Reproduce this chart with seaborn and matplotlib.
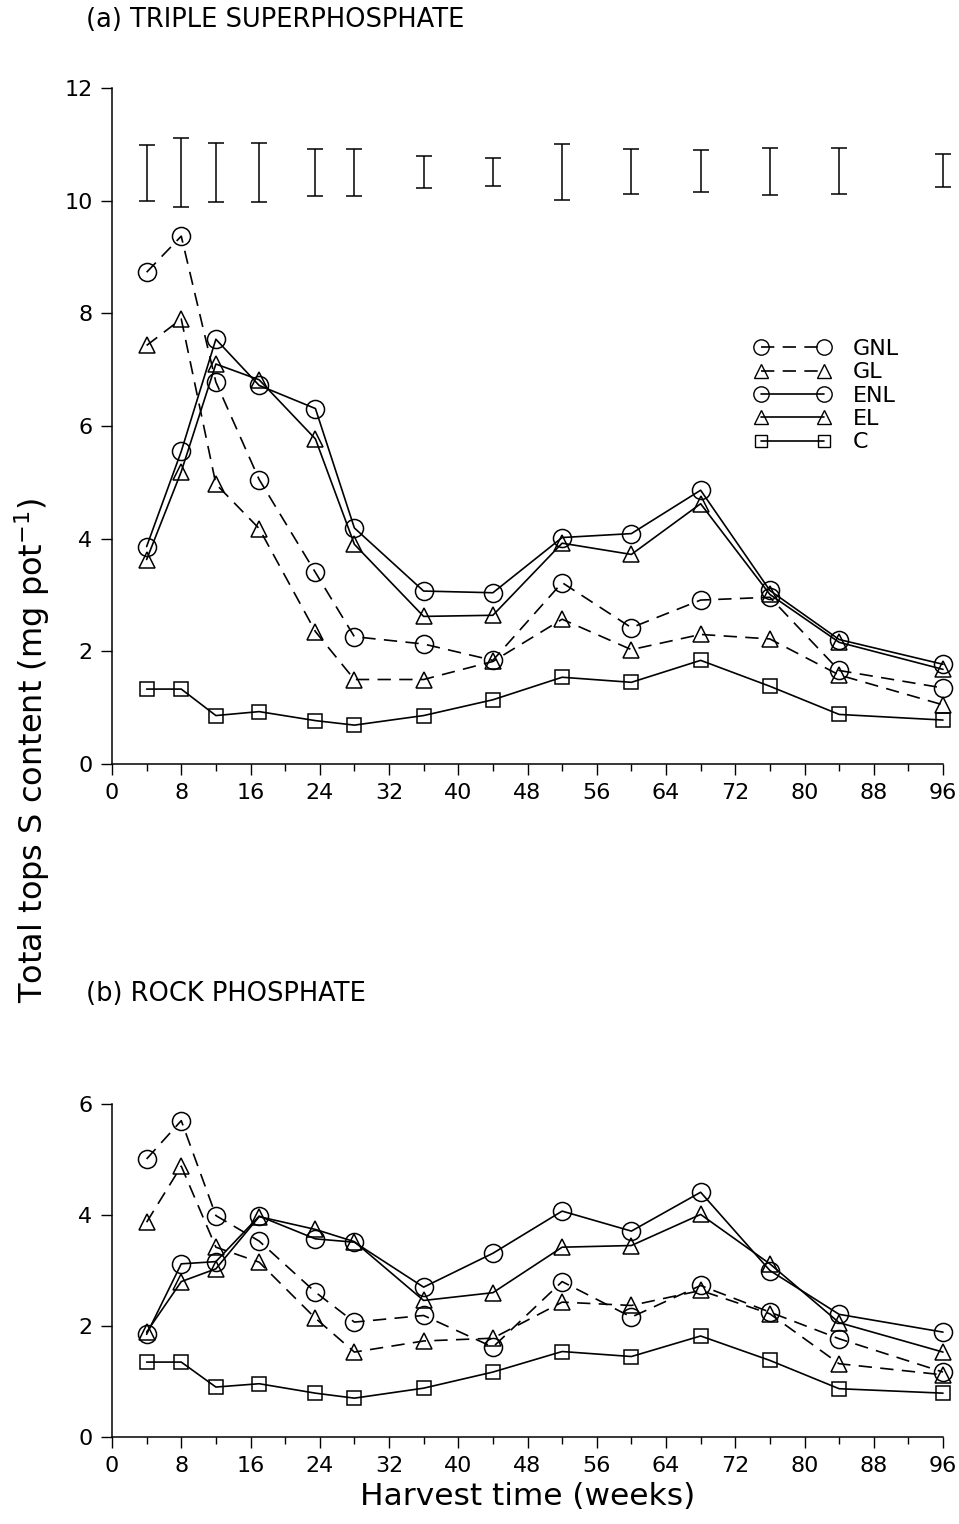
import matplotlib
matplotlib.use("Agg")
import matplotlib.pyplot as plt
import seaborn as sns
import numpy as np
from matplotlib.lines import Line2D
from matplotlib.ticker import MultipleLocator

sns.set_style("ticks")
plt.rcParams["font.family"] = ["DejaVu Sans"]
plt.rcParams["text.color"] = "black"
plt.rcParams["axes.labelcolor"] = "black"
plt.rcParams["xtick.color"] = "black"
plt.rcParams["ytick.color"] = "black"

# ---------------- data ----------------
weeks = [4, 8, 12, 17, 23.5, 28, 36, 44, 52, 60, 68, 76, 84, 96]
series_names = ["GNL", "GL", "ENL", "EL", "C"]

# (a) Triple superphosphate
tsp_gnl = [8.73, 9.37, 6.78, 5.05, 3.40, 2.26, 2.13, 1.84, 3.22, 2.42, 2.91, 2.96, 1.66, 1.35]
tsp_gl  = [7.43, 7.90, 4.97, 4.18, 2.35, 1.50, 1.50, 1.82, 2.57, 2.03, 2.30, 2.22, 1.58, 1.05]
tsp_enl = [3.86, 5.55, 7.54, 6.72, 6.31, 4.19, 3.07, 3.04, 4.02, 4.09, 4.86, 3.08, 2.21, 1.77]
tsp_el  = [3.63, 5.19, 7.10, 6.82, 5.77, 3.90, 2.62, 2.64, 3.92, 3.72, 4.62, 3.01, 2.16, 1.68]
tsp_c   = [1.33, 1.33, 0.86, 0.93, 0.77, 0.69, 0.86, 1.14, 1.54, 1.45, 1.84, 1.38, 0.88, 0.78]

# LSD bars (low / high ends) for panel (a)
lsd_low  = [10.00, 9.88, 9.98, 9.98, 10.08, 10.09, 10.22, 10.26, 10.02, 10.11, 10.15, 10.10, 10.11, 10.24]
lsd_high = [10.99, 11.11, 11.02, 11.02, 10.91, 10.91, 10.79, 10.75, 11.01, 10.92, 10.90, 10.94, 10.94, 10.83]

# (b) Rock phosphate
rp_gnl = [5.01, 5.70, 3.99, 3.53, 2.61, 2.07, 2.19, 1.62, 2.80, 2.16, 2.73, 2.25, 1.77, 1.17]
rp_gl  = [3.87, 4.88, 3.42, 3.15, 2.14, 1.53, 1.73, 1.78, 2.43, 2.37, 2.64, 2.22, 1.32, 1.12]
rp_enl = [1.85, 3.12, 3.16, 3.98, 3.57, 3.51, 2.70, 3.31, 4.07, 3.71, 4.41, 3.00, 2.21, 1.89]
rp_el  = [1.89, 2.80, 3.03, 3.97, 3.74, 3.52, 2.46, 2.60, 3.42, 3.45, 4.01, 3.12, 2.06, 1.53]
rp_c   = [1.35, 1.35, 0.90, 0.96, 0.79, 0.70, 0.88, 1.17, 1.54, 1.45, 1.82, 1.38, 0.87, 0.79]

styles = {
    "GNL": dict(marker="o", ls=(0, (8, 5)), ms=13),
    "GL":  dict(marker="^", ls=(0, (8, 5)), ms=12),
    "ENL": dict(marker="o", ls="-", ms=13),
    "EL":  dict(marker="^", ls="-", ms=12),
    "C":   dict(marker="s", ls="-", ms=10.5),
}

W, H = 959, 1524
fig = plt.figure(figsize=(W / 100, H / 100), dpi=100)

left = 112 / W
width = (943 - 112) / W
ax1 = fig.add_axes([left, 1 - 764 / H, width, (764 - 88) / H])
ax2 = fig.add_axes([left, 1 - 1437 / H, width, (1437 - 1104) / H])

LW = 1.2


def draw(ax, data):
    for name, vals in zip(series_names, data):
        st = styles[name]
        sns.lineplot(x=weeks, y=vals, ax=ax, color="black", linewidth=LW,
                     linestyle=st["ls"], marker=st["marker"], markersize=st["ms"],
                     markerfacecolor="none", markeredgecolor="black",
                     markeredgewidth=1.1, legend=False, sort=False, clip_on=False)


draw(ax1, [tsp_gnl, tsp_gl, tsp_enl, tsp_el, tsp_c])
draw(ax2, [rp_gnl, rp_gl, rp_enl, rp_el, rp_c])

lo = np.array(lsd_low)
hi = np.array(lsd_high)
eb = ax1.errorbar(weeks, (lo + hi) / 2, yerr=(hi - lo) / 2, fmt="none",
                  ecolor="black", elinewidth=1.1, capsize=6, capthick=1.1)
for art in eb.lines[1] + eb.lines[2]:
    art.set_clip_on(False)

for ax, ymax in ((ax1, 12), (ax2, 6)):
    ax.set_xlim(0, 96)
    ax.set_ylim(0, ymax)
    ax.xaxis.set_major_locator(MultipleLocator(8))
    ax.xaxis.set_minor_locator(MultipleLocator(4))
    ax.yaxis.set_major_locator(MultipleLocator(2))
    ax.tick_params(axis="both", which="major", direction="out", length=8,
                   width=1.0, labelsize=16, pad=6, color="black", labelcolor="black")
    ax.tick_params(axis="x", which="minor", direction="out", length=5, width=1.0)
    for s in ("top", "right"):
        ax.spines[s].set_visible(False)
    for s in ("left", "bottom"):
        ax.spines[s].set_linewidth(1.1)
        ax.spines[s].set_color("black")
    ax.set_xlabel("")
    ax.set_ylabel("")
    ax.set_facecolor("white")

ax2.set_xlabel("Harvest time (weeks)", fontsize=22.5, labelpad=4, color="black")

# legend
handles = []
for name in series_names:
    st = styles[name]
    handles.append(Line2D([], [], color="black", linewidth=LW, linestyle=st["ls"],
                          marker=st["marker"], markersize=st["ms"] * 0.85,
                          markerfacecolor="none", markeredgecolor="black",
                          markeredgewidth=1.0))
leg = ax1.legend(handles, series_names, loc="upper left", bbox_to_anchor=(0.76, 0.645),
                 frameon=False, numpoints=2, handlelength=3.4, fontsize=16,
                 labelspacing=0.15, handletextpad=1.0, borderpad=0)
for t in leg.get_texts():
    t.set_color("black")

fig.text(86 / W, 1 - 20 / H, "(a) TRIPLE SUPERPHOSPHATE", fontsize=18.5,
         ha="left", va="center", color="black")
fig.text(86 / W, 1 - 994 / H, "(b) ROCK PHOSPHATE", fontsize=18.5,
         ha="left", va="center", color="black")
fig.text(32 / W, 1 - 750 / H, "Total tops S content (mg pot$^{-1}$)",
         fontsize=23, rotation=90, ha="center", va="center", color="black")

fig.savefig("out.png", dpi=100, facecolor="white")
